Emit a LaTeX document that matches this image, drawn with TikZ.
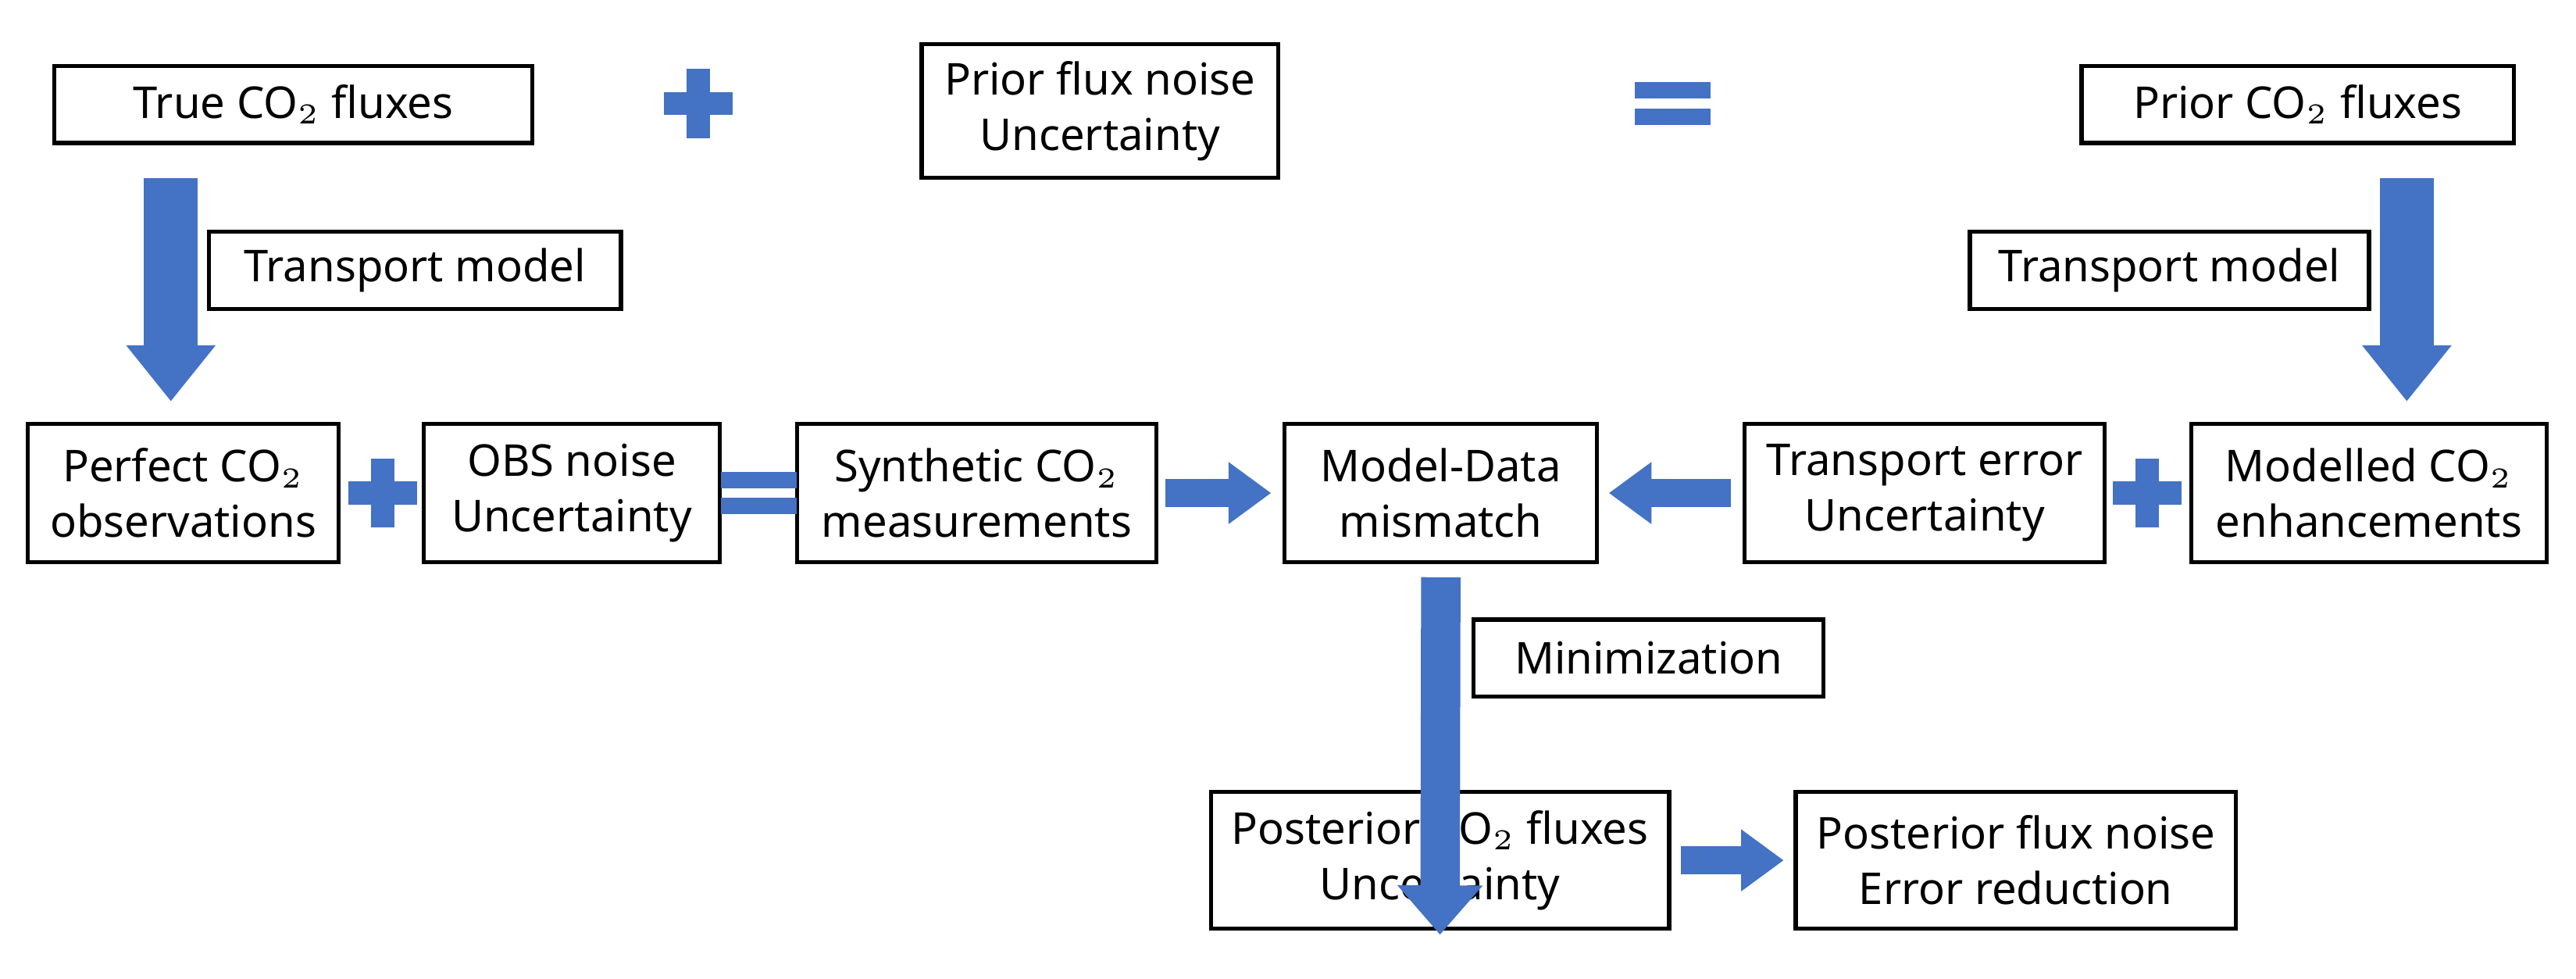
\documentclass[tikz,border=0pt]{standalone}
\usepackage{fontspec}
\setmainfont{Noto Sans}
\usetikzlibrary{arrows.meta}
\definecolor{fatblue}{HTML}{4472C4}
\tikzset{
  box/.style={draw=black,line width=0.7pt,align=center,inner sep=0pt,
    font=\fontsize{7.6}{9.6}\selectfont},
  fat/.style={draw=fatblue,line width=0.33cm,-{Triangle[width=0.52cm,length=0.34cm]}},
  mid/.style={draw=fatblue,line width=0.24cm,-{Triangle[width=0.5cm,length=0.3cm]}},
  thin/.style={draw=fatblue,line width=0.17cm,-{Triangle[width=0.36cm,length=0.26cm]}},
}
\newcommand{\plussign}[1]{\fill[fatblue] ($(#1)+(-0.21,-0.07)$) rectangle ($(#1)+(0.21,0.07)$);
  \fill[fatblue] ($(#1)+(-0.07,-0.21)$) rectangle ($(#1)+(0.07,0.21)$);}
\newcommand{\equalsign}[1]{\fill[fatblue] ($(#1)+(-0.23,0.03)$) rectangle ($(#1)+(0.23,0.13)$);
  \fill[fatblue] ($(#1)+(-0.23,-0.13)$) rectangle ($(#1)+(0.23,-0.03)$);}
\usetikzlibrary{calc}
\begin{document}
\begin{tikzpicture}
\useasboundingbox (0,0) rectangle (15.68,-5.953);
% top row
\node[box,minimum width=2.91cm,minimum height=0.47cm] (truef) at (1.785,-0.635) {True CO$_2$ fluxes};
\node[box,minimum width=2.17cm,minimum height=0.81cm] (priorn) at (6.695,-0.675) {Prior flux noise\\Uncertainty};
\node[box,minimum width=2.63cm,minimum height=0.47cm] (priorf) at (13.985,-0.635) {Prior CO$_2$ fluxes};
\node[box,minimum width=2.51cm,minimum height=0.47cm] (tml) at (2.525,-1.645) {Transport model};
\node[box,minimum width=2.43cm,minimum height=0.47cm] (tmr) at (13.205,-1.645) {Transport model};
% middle row
\node[box,minimum width=1.89cm,minimum height=0.84cm] (perf) at (1.115,-3.0) {Perfect CO$_2$\\observations};
\node[box,minimum width=1.80cm,minimum height=0.84cm] (obsn) at (3.48,-3.0) {OBS noise\\Uncertainty};
\node[box,minimum width=2.19cm,minimum height=0.84cm] (synth) at (5.945,-3.0) {Synthetic CO$_2$\\measurements};
\node[box,minimum width=1.90cm,minimum height=0.84cm] (mism) at (8.77,-3.0) {Model-Data\\mismatch};
\node[box,minimum width=2.19cm,minimum height=0.84cm] (tre) at (11.715,-3.0) {Transport error\\Uncertainty};
\node[box,minimum width=2.16cm,minimum height=0.84cm] (modc) at (14.42,-3.0) {Modelled CO$_2$\\enhancements};
% bottom
\node[box,minimum width=2.13cm,minimum height=0.47cm] (mini) at (10.035,-4.005) {Minimization};
\node[box,minimum width=2.79cm,minimum height=0.83cm] (postf) at (8.765,-5.235) {Posterior CO$_2$ fluxes\\Uncertainty};
\node[box,minimum width=2.68cm,minimum height=0.83cm] (postn) at (12.27,-5.235) {Posterior flux noise\\Error reduction};
% signs
\plussign{4.25,-0.63}
\equalsign{10.18,-0.63}
\plussign{2.33,-3.0}
\equalsign{4.62,-3.0}
\plussign{13.07,-3.0}
% arrows
\draw[fat] ([xshift=-0.745cm]truef.south) ++(0,-0.2) coordinate (a1) -- ++(0,-1.36);
\draw[fat] ([xshift=0.665cm]priorf.south) ++(0,-0.2) coordinate (a2) -- ++(0,-1.36);
\draw[thin] (synth.east) ++(0.04,0) -- ([xshift=-0.07cm]mism.west);
\draw[thin] ([xshift=-0.07cm]tre.west) -- ([xshift=0.06cm]mism.east);
\draw[mid] ([yshift=-0.08cm]mism.south) -- ([yshift=-0.88cm]postf.north);
\draw[thin] ([xshift=0.06cm]postf.east) -- ([xshift=-0.06cm]postn.west);
\end{tikzpicture}
\end{document}
